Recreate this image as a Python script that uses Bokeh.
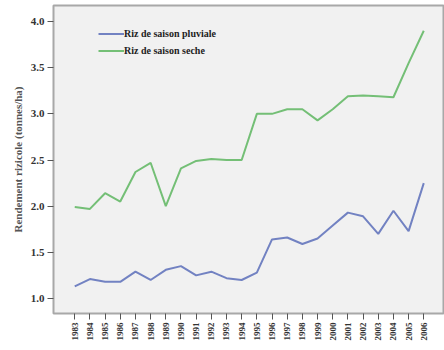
import math
from bokeh.plotting import figure
from bokeh.models import ColumnDataSource, FixedTicker, PrintfTickFormatter, Legend, LegendItem, Range1d
from bokeh.embed import file_html
from bokeh.resources import INLINE

# Rice yield by season, 1983-2006 (tonnes/ha)
years = list(range(1983, 2007))
pluviale = [1.13, 1.21, 1.18, 1.18, 1.29, 1.20, 1.31, 1.35, 1.25, 1.29, 1.22, 1.20,
            1.28, 1.64, 1.66, 1.59, 1.65, 1.79, 1.93, 1.89, 1.70, 1.95, 1.73, 2.25]
seche = [1.99, 1.97, 2.14, 2.05, 2.37, 2.47, 2.00, 2.41, 2.49, 2.51, 2.50, 2.50,
         3.00, 3.00, 3.05, 3.05, 2.93, 3.05, 3.19, 3.20, 3.19, 3.18, 3.55, 3.90]
y_ticks = [1.0, 1.5, 2.0, 2.5, 3.0, 3.5, 4.0]
series_names = ["Riz de saison pluviale", "Riz de saison seche"]
y_title = "Rendement rizicole (tonnes/ha)"

FONT = "Liberation Serif"

src = ColumnDataSource(dict(year=years, pluviale=pluviale, seche=seche))

p = figure(frame_width=390, frame_height=308, output_backend="svg", toolbar_location=None,
           x_range=Range1d(1981.6, 2007.3), y_range=Range1d(0.837, 4.174),
           min_border_left=53, min_border_right=1, min_border_top=5, min_border_bottom=37)

p.background_fill_color = "#f1f1f1"
p.border_fill_color = "white"
p.outline_line_color = "#a8a8a8"
p.outline_line_width = 2
p.xgrid.visible = False
p.ygrid.visible = False

r1 = p.line("year", "pluviale", source=src, line_color="#7282c2", line_width=2)
r2 = p.line("year", "seche", source=src, line_color="#74bf76", line_width=2)

for ax in (p.xaxis[0], p.yaxis[0]):
    ax.axis_line_color = None
    ax.major_tick_line_color = "#555555"
    ax.major_tick_out = 6
    ax.major_tick_in = 0
    ax.minor_tick_line_color = None
    ax.major_label_text_font = FONT
    ax.major_label_text_font_style = "bold"
    ax.major_label_text_color = "#333333"

p.xaxis.ticker = FixedTicker(ticks=years)
p.xaxis.major_label_orientation = math.pi / 2
p.xaxis.major_label_text_font_size = "9px"
p.xaxis.major_label_standoff = 3

p.yaxis.ticker = FixedTicker(ticks=y_ticks)
p.yaxis.formatter = PrintfTickFormatter(format="%.1f")
p.yaxis.major_label_text_font_size = "11px"
p.yaxis.major_label_standoff = 3
p.yaxis.axis_label = y_title
p.yaxis.axis_label_text_font = FONT
p.yaxis.axis_label_text_font_style = "bold"
p.yaxis.axis_label_text_font_size = "11px"
p.yaxis.axis_label_text_color = "#555555"
p.yaxis.axis_label_standoff = 4

legend = Legend(items=[LegendItem(label=series_names[0], renderers=[r1]),
                       LegendItem(label=series_names[1], renderers=[r2])],
                location=(45, 254), background_fill_alpha=0, border_line_color=None,
                padding=0, spacing=0, margin=0, label_standoff=0,
                glyph_width=26, glyph_height=17, label_height=17,
                label_text_font=FONT, label_text_font_style="bold",
                label_text_font_size="10px", label_text_color="#222222")
p.add_layout(legend)

open("out.html", "w").write(file_html(p, INLINE))
